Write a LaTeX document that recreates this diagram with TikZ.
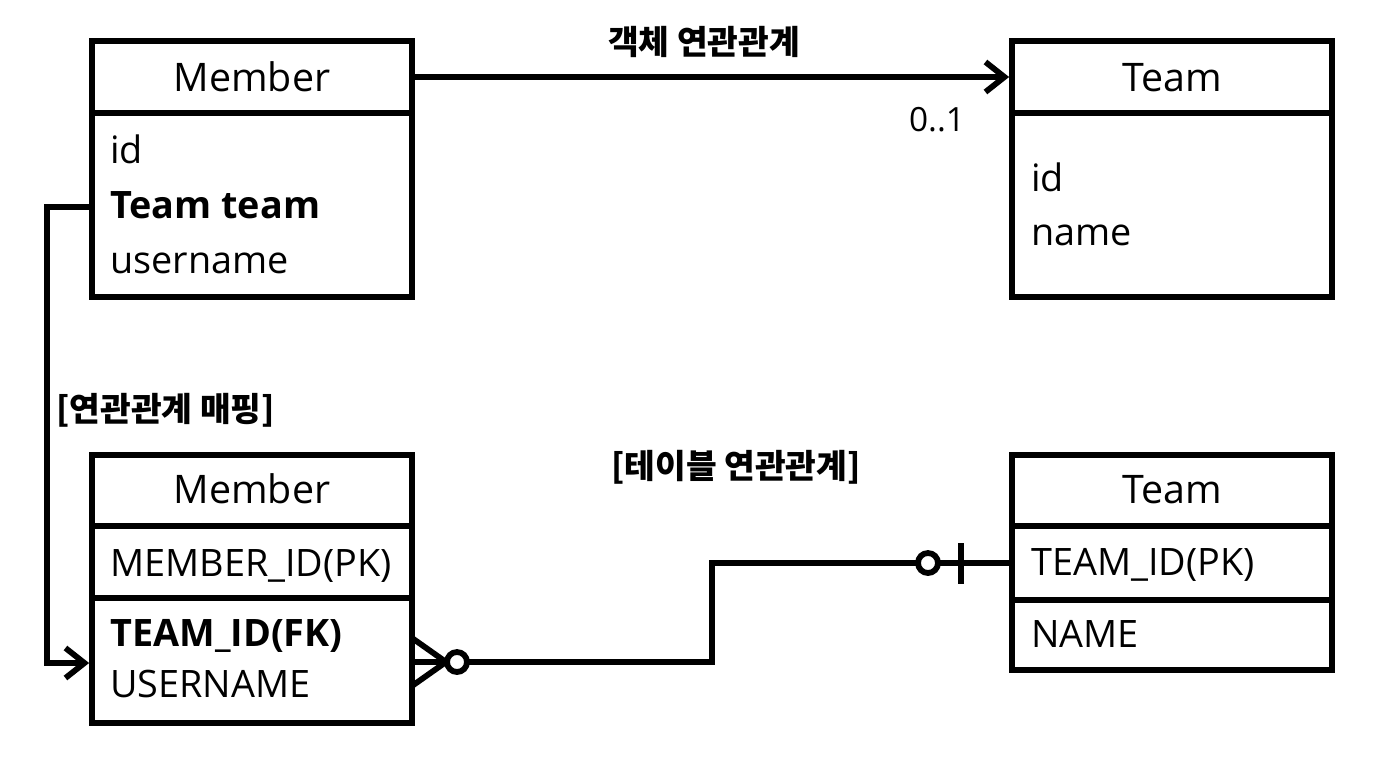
\documentclass[tikz,border=0pt]{standalone}
\usepackage{fontspec}
\setmainfont{Open Sans}
\newfontfamily\kr{Noto Sans CJK KR}
\usetikzlibrary{arrows.meta}
\begin{document}
\begin{tikzpicture}[x=0.02cm,y=-0.02cm,
  lw/.style={line width=3.3pt},
  box/.style={draw,lw,rectangle,minimum width=6.4cm,inner sep=0pt},
  title/.style={font=\fontsize{22.4}{27}\selectfont,anchor=base,inner sep=0pt},
  field/.style={font=\fontsize{21.5}{25}\selectfont,anchor=base west,inner sep=0pt},
  fieldb/.style={font=\bfseries\fontsize{21.5}{25}\selectfont,anchor=base west,inner sep=0pt},
  krlabel/.style={font=\kr\bfseries\fontsize{19}{22}\selectfont,inner sep=0pt},
  numlabel/.style={font=\fontsize{19}{22}\selectfont,inner sep=0pt},
  tip/.style={-{Straight Barb[length=0.38cm,width=0.6cm]}},
  ercircle/.style={circle,draw,lw,fill=white,minimum size=0.4cm,inner sep=0pt}]
\useasboundingbox (0,0) rectangle (1390,764);
\fill[white] (0,0) rectangle (1390,764);

% top boxes
\node[box,minimum height=1.44cm] (m1h) at (252,77) {};
\node[box,minimum height=3.68cm] (m1b) at (252,205) {};
\node[box,minimum height=1.44cm] (t1h) at (1172,77) {};
\node[box,minimum height=3.68cm] (t1b) at (1172,205) {};
% bottom boxes
\node[box,minimum height=1.42cm] (m2h) at (252,490.5) {};
\node[box,minimum height=1.44cm] (m2a) at (252,562) {};
\node[box,minimum height=2.5cm] (m2b) at (252,660.5) {};
\node[box,minimum height=1.42cm] (t2h) at (1172,490.5) {};
\node[box,minimum height=1.48cm] (t2a) at (1172,563) {};
\node[box,minimum height=1.4cm] (t2b) at (1172,635) {};

% texts
\node[title] (m1title) at (252,91) {Member};
\node[field] (m1id) at (110,163) {id};
\node[fieldb] (m1team) at (110,218) {Team team};
\node[field] (m1user) at (110,273) {username};
\node[title] (t1title) at (1172,91) {Team};
\node[field] (t1id) at (1031,191) {id};
\node[field] (t1name) at (1031,245) {name};

\node[title] (m2title) at (252,503) {Member};
\node[field] (m2pk) at (110,576) {MEMBER\_ID(PK)};
\node[fieldb] (m2fk) at (110,646) {TEAM\_ID(FK)};
\node[field] (m2user) at (110,697) {USERNAME};
\node[title] (t2title) at (1172,503) {Team};
\node[field] (t2pk) at (1031,575) {TEAM\_ID(PK)};
\node[field] (t2name) at (1031,647) {NAME};

% labels
\node[krlabel] (lbl1) at (704,42) {객체 연관관계};
\node[numlabel] (mult) at (937,120) {0..1};
\node[krlabel,anchor=west] (lbl2) at (56,410) {[연관관계 매핑]};
\node[krlabel] (lbl3) at (736,467) {[테이블 연관관계]};

% object association
\draw[lw,tip] (m1h.east) -- (t1h.west);

% mapping
\coordinate (mapA) at (47,207);
\coordinate (mapB) at (47,663);
\draw[lw,tip] (mapA -| m1b.west) -- (mapA) -- (mapB) -- (mapB -| m2b.west);

% table relation
\coordinate (erA) at (712,662);
\coordinate (erB) at (712,563);
\draw[lw] (erA -| m2b.east) -- (erA) -- (erB) -- (erB -| t2a.west);
\coordinate (cfU) at (412,638);
\coordinate (cfM) at (446,662);
\coordinate (cfL) at (412,686);
\draw[lw] (cfU) -- (cfM) -- (cfL);
\node[ercircle] (c1) at (457,662) {};
\node[ercircle] (c2) at (928,563) {};
\coordinate (barT) at (961,543);
\coordinate (barB) at (961,584);
\draw[lw] (barT) -- (barB);
\end{tikzpicture}
\end{document}
